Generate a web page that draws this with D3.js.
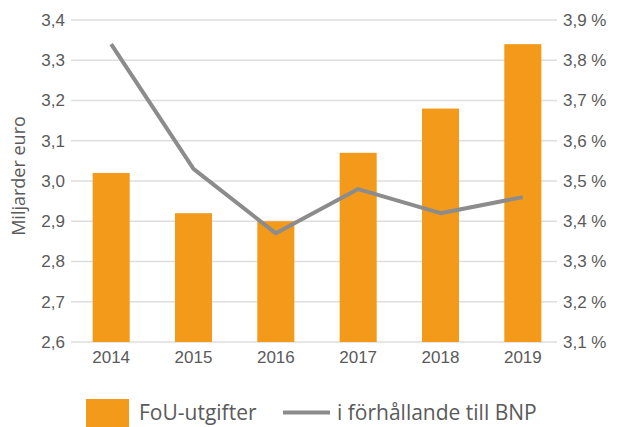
<!DOCTYPE html>
<html>
<head>
<meta charset="utf-8">
<script src="https://cdn.jsdelivr.net/npm/d3@7"></script>
<style>
  body { margin: 0; background: #fff; }
  svg { display: block; font-family: "Open Sans", sans-serif; }
</style>
</head>
<body>
<svg></svg>
<script>
const width = 617,
  height = 427,
  margin = {top: 20, right: 55, bottom: 85, left: 70},
  barColor = '#f39a1b',
  lineColor = '#8c8c8c',
  gridColor = '#dedede',
  textColor = '#5a5a5a'

// data
const years = ['2014', '2015', '2016', '2017', '2018', '2019']
const fouValues = [3.02, 2.92, 2.90, 3.07, 3.18, 3.34]
const bnpShare = [3.84, 3.53, 3.37, 3.48, 3.42, 3.46]
const leftTicks = [2.6, 2.7, 2.8, 2.9, 3.0, 3.1, 3.2, 3.3, 3.4]
const rightTicks = [3.1, 3.2, 3.3, 3.4, 3.5, 3.6, 3.7, 3.8, 3.9]

const svg = d3.select('svg')
  .attr('width', width)
  .attr('height', height)

const x = d3.scaleBand()
  .domain(years)
  .range([margin.left, width - margin.right + 2])
  .paddingInner(0.55)
  .paddingOuter(0.275)

const yLeft = d3.scaleLinear()
  .domain([2.6, 3.4])
  .range([height - margin.bottom, margin.top])

const yRight = d3.scaleLinear()
  .domain([3.1, 3.9])
  .range([height - margin.bottom, margin.top])

const commaFmt = d => d3.format('.1f')(d).replace('.', ',')

// gridlines
svg.append('g')
  .selectAll('line')
  .data(leftTicks)
  .join('line')
  .attr('x1', 71)
  .attr('x2', 557)
  .attr('y1', d => yLeft(d))
  .attr('y2', d => yLeft(d))
  .attr('stroke', gridColor)
  .attr('stroke-width', 1.5)

// left axis labels
const leftAxis = d3.axisLeft(yLeft).tickValues(leftTicks).tickFormat(commaFmt).tickSize(0).tickPadding(6)
svg.append('g')
  .attr('transform', 'translate(71,0)')
  .call(leftAxis)
  .call(g => g.select('.domain').remove())
  .call(g => g.selectAll('text').attr('fill', textColor).style('font-size', '17px'))

// right axis labels
const rightAxis = d3.axisRight(yRight).tickValues(rightTicks).tickFormat(d => commaFmt(d) + '\u00a0%').tickSize(0).tickPadding(6)
svg.append('g')
  .attr('transform', 'translate(557,0)')
  .call(rightAxis)
  .call(g => g.select('.domain').remove())
  .call(g => g.selectAll('text').attr('fill', textColor).style('font-size', '17px'))

// x axis labels
const xAxis = d3.axisBottom(x).tickSize(0).tickPadding(9)
svg.append('g')
  .attr('transform', `translate(0,${height - margin.bottom})`)
  .call(xAxis)
  .call(g => g.select('.domain').remove())
  .call(g => g.selectAll('text').attr('fill', textColor).style('font-size', '17px'))

// y axis title
svg.append('text')
  .attr('transform', 'translate(25,176) rotate(-90)')
  .attr('text-anchor', 'middle')
  .attr('fill', textColor)
  .style('font-size', '18px')
  .text('Miljarder euro')

// bars
svg.append('g')
  .selectAll('rect')
  .data(years)
  .join('rect')
  .attr('x', d => x(d))
  .attr('width', x.bandwidth())
  .attr('y', (d, i) => yLeft(fouValues[i]))
  .attr('height', (d, i) => yLeft(2.6) - yLeft(fouValues[i]))
  .attr('fill', barColor)

// line
const line = d3.line()
  .x((d, i) => x(years[i]) + x.bandwidth() / 2)
  .y(d => yRight(d))

svg.append('path')
  .datum(bnpShare)
  .attr('d', line)
  .attr('fill', 'none')
  .attr('stroke', lineColor)
  .attr('stroke-width', 4)
  .attr('stroke-linejoin', 'round')

// legend
const legend = svg.append('g')
legend.append('rect')
  .attr('x', 86).attr('y', 399)
  .attr('width', 43).attr('height', 43)
  .attr('fill', barColor)
legend.append('text')
  .attr('x', 139).attr('y', 420)
  .attr('fill', textColor)
  .style('font-size', '21px')
  .text('FoU-utgifter')
legend.append('line')
  .attr('x1', 283).attr('x2', 330)
  .attr('y1', 412.5).attr('y2', 412.5)
  .attr('stroke', lineColor)
  .attr('stroke-width', 4)
legend.append('text')
  .attr('x', 337).attr('y', 420)
  .attr('fill', textColor)
  .style('font-size', '21px')
  .text('i förhållande till BNP')
</script>
</body>
</html>
